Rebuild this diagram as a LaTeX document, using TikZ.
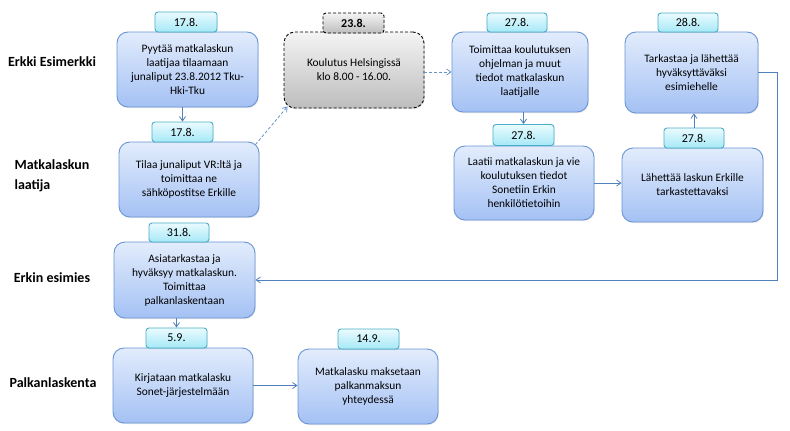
\documentclass[tikz,border=0pt]{standalone}
\usepackage{fontspec}
\setmainfont{Carlito}
\usetikzlibrary{arrows.meta,calc,shadows}
\definecolor{boxline}{HTML}{6A95D4}
\definecolor{boxtop}{HTML}{E2ECFC}
\definecolor{boxbot}{HTML}{A4C1F4}
\definecolor{tabline}{HTML}{4AAFC8}
\definecolor{tabtop}{HTML}{EAFBFE}
\definecolor{tabbot}{HTML}{A6E8F7}
\definecolor{grytop}{HTML}{F4F4F4}
\definecolor{grybot}{HTML}{BDBDBD}
\definecolor{conn}{HTML}{4F81BD}
\tikzset{
  box/.style={draw=boxline, line width=0.9pt, rounded corners=11pt, top color=boxtop, bottom color=boxbot,
    align=center, inner sep=2pt, font=\fontsize{11.4}{14}\selectfont,
    drop shadow={opacity=0.18, shadow xshift=0.8pt, shadow yshift=-1.2pt}},
  tabbox/.style={draw=tabline, line width=0.9pt, rounded corners=3pt, top color=tabtop, bottom color=tabbot,
    inner sep=0pt, font=\fontsize{12}{13}\selectfont,
    drop shadow={opacity=0.15, shadow xshift=0.6pt, shadow yshift=-0.8pt}},
  graybox/.style={box, draw=black, dash pattern=on 3pt off 2pt, top color=grytop, bottom color=grybot},
  graytab/.style={tabbox, draw=black, dash pattern=on 3pt off 2pt, top color=grytop, bottom color=grybot, font=\fontsize{12}{13}\selectfont\bfseries},
  lane/.style={font=\fontsize{14}{19.5}\selectfont\bfseries, align=left},
  arr/.style={draw=conn, line width=0.8pt, -{Straight Barb[angle=70:4.5pt 1, line width=0.8pt]}},
  darr/.style={arr, dash pattern=on 3pt off 2pt, draw=conn!85}
}
\begin{document}
\begin{tikzpicture}[x=1pt,y=-1pt]
\useasboundingbox[fill=white] (0,0) rectangle (790,431);
% lane labels
\node[lane] (l1) at (52,62) {Erkki Esimerkki};
\node[lane] (l2) at (52,176) {Matkalaskun\\laatija};
\node[lane] (l3) at (52,278) {Erkin esimies};
\node[lane] (l4) at (53,383) {Palkanlaskenta};
% boxes
\node[box, minimum width=141pt, minimum height=75pt] (b1) at (187.5,69.5) {Pyytää matkalaskun\\laatijaa tilaamaan\\junaliput 23.8.2012 Tku-\\Hki-Tku};
\node[tabbox, minimum width=62pt, minimum height=20pt] (t1) at (186,22) {17.8.};
\node[box, minimum width=140pt, minimum height=75pt] (b2) at (189,179.5) {Tilaa junaliput VR:ltä ja\\toimittaa ne\\sähköpostitse Erkille};
\node[tabbox, minimum width=61pt, minimum height=20pt] (t2) at (182.5,132) {17.8.};
\node[graybox, minimum width=140pt, minimum height=76pt] (b3) at (354,70) {Koulutus Helsingissä\\klo 8.00 - 16.00.};
\node[graytab, minimum width=61pt, minimum height=20pt] (t3) at (353.5,23) {23.8.};
\node[box, minimum width=136pt, minimum height=80pt] (b4) at (520,72) {Toimittaa koulutuksen\\ohjelman ja muut\\tiedot matkalaskun\\laatijalle};
\node[tabbox, minimum width=60pt, minimum height=19pt] (t4) at (517,22.5) {27.8.};
\node[box, minimum width=140pt, minimum height=74pt] (b5) at (524,183) {Laatii matkalaskun ja vie\\koulutuksen tiedot\\Sonetiin Erkin\\henkilötietoihin};
\node[tabbox, minimum width=61pt, minimum height=21pt] (t5) at (523.5,135) {27.8.};
\node[box, minimum width=133pt, minimum height=81pt] (b6) at (691.5,72.5) {Tarkastaa ja lähettää\\hyväksyttäväksi\\esimiehelle};
\node[tabbox, minimum width=60pt, minimum height=19pt] (t6) at (688,22.5) {28.8.};
\node[box, minimum width=141pt, minimum height=74pt] (b7) at (692.5,185) {Lähettää laskun Erkille\\tarkastettavaksi};
\node[tabbox, minimum width=60pt, minimum height=20pt] (t7) at (694,138) {27.8.};
\node[box, minimum width=141pt, minimum height=76pt] (b8) at (184.5,280) {Asiatarkastaa ja\\hyväksyy matkalaskun.\\Toimittaa\\palkanlaskentaan};
\node[tabbox, minimum width=60pt, minimum height=19pt] (t8) at (179,232.5) {31.8.};
\node[box, minimum width=140pt, minimum height=75pt] (b9) at (183,385.5) {Kirjataan matkalasku\\Sonet-järjestelmään};
\node[tabbox, minimum width=61pt, minimum height=20pt] (t9) at (176.5,338) {5.9.};
\node[box, minimum width=140pt, minimum height=75pt] (b10) at (368,386.5) {Matkalasku maksetaan\\palkanmaksun\\yhteydessä};
\node[tabbox, minimum width=61pt, minimum height=20pt] (t10) at (368.5,339) {14.9.};
% connectors
\draw[arr] (t2.north |- b1.south) -- (t2.north);
\draw[darr] ($(b2.north east)+(-4,3)$) -- ($(b3.south west)+(4,-2)$);
\draw[darr] (b4.west -| b3.east) -- (b4.west);
\draw[arr] (t5.north |- b4.south) -- (t5.north);
\draw[arr] (b5.east) -- (b5.east -| b7.west);
\draw[arr] (t7.north) -- (t7.north |- b6.south);
\coordinate (c1) at (777,280);
\draw[arr] (b6.east) -| (c1) -- (b8.east);
\draw[arr] (t9.north |- b8.south) -- (t9.north);
\draw[arr] (b9.east) -- (b9.east -| b10.west);
\end{tikzpicture}
\end{document}
